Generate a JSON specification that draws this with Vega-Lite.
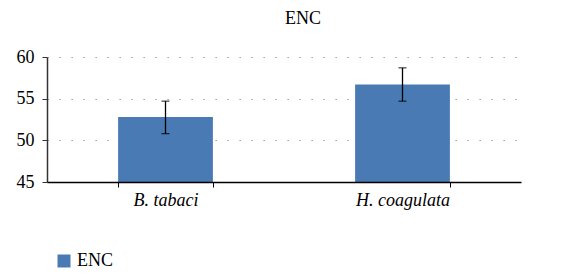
{
  "$schema": "https://vega.github.io/schema/vega-lite/v6.json",
  "autosize": {"type": "none"},
  "padding": {"left": 47, "top": 57, "right": 56, "bottom": 93},
  "width": 474,
  "height": 125,
  "background": "white",
  "title": {"text": "ENC", "font": "Liberation Serif", "fontSize": 18, "fontWeight": "normal", "color": "#000000", "offset": 20, "dx": 19},
  "data": {"values": [
    {"species": "B. tabaci", "series": "ENC", "value": 52.8, "low": 50.8, "high": 54.7},
    {"species": "H. coagulata", "series": "ENC", "value": 56.7, "low": 54.7, "high": 58.7}
  ]},
  "config": {
    "view": {"stroke": null},
    "font": "Liberation Serif"
  },
  "encoding": {
    "x": {"field": "species", "type": "nominal", "sort": null,
      "scale": {"paddingInner": 0.6, "paddingOuter": 0.3},
      "axis": {"title": null, "labelAngle": 0, "labelFont": "Liberation Serif", "labelFontStyle": "italic", "labelFontSize": 18, "labelColor": "#000000", "labelPadding": 4, "tickBand": "extent", "tickSize": 5, "tickColor": "#000000", "domainColor": "#000000", "domainWidth": 1.5, "grid": false, "zindex": 1}}
  },
  "layer": [
    {"mark": {"type": "bar", "color": "#4a7ab4"},
      "encoding": {
        "y": {"field": "value", "type": "quantitative",
          "scale": {"domain": [45, 60], "zero": false, "nice": false},
          "axis": {"title": null, "values": [45, 50, 55, 60], "labelFont": "Liberation Serif", "labelFontSize": 18, "labelColor": "#000000", "labelPadding": 8, "tickSize": 5, "tickColor": "#333333", "domainColor": "#333333", "domainWidth": 1.5, "grid": true, "gridColor": "#888888", "gridDash": [1.2, 10.8], "gridWidth": 1.2}},
        "y2": {"datum": 45},
        "color": {"field": "series", "type": "nominal", "scale": {"range": ["#4a7ab4"]},
          "legend": {"title": null, "orient": "none", "legendX": 8, "legendY": 195, "symbolType": "square", "symbolSize": 169, "labelFont": "Liberation Serif", "labelFontSize": 18, "labelColor": "#000000", "symbolStrokeWidth": 0}}
      }},
    {"mark": {"type": "rule", "color": "#000000", "strokeWidth": 1.3},
      "encoding": {"y": {"field": "low", "type": "quantitative"}, "y2": {"field": "high"}}},
    {"mark": {"type": "tick", "color": "#000000", "thickness": 1.3, "size": 8},
      "encoding": {"y": {"field": "low", "type": "quantitative"}}},
    {"mark": {"type": "tick", "color": "#000000", "thickness": 1.3, "size": 8},
      "encoding": {"y": {"field": "high", "type": "quantitative"}}}
  ]
}
